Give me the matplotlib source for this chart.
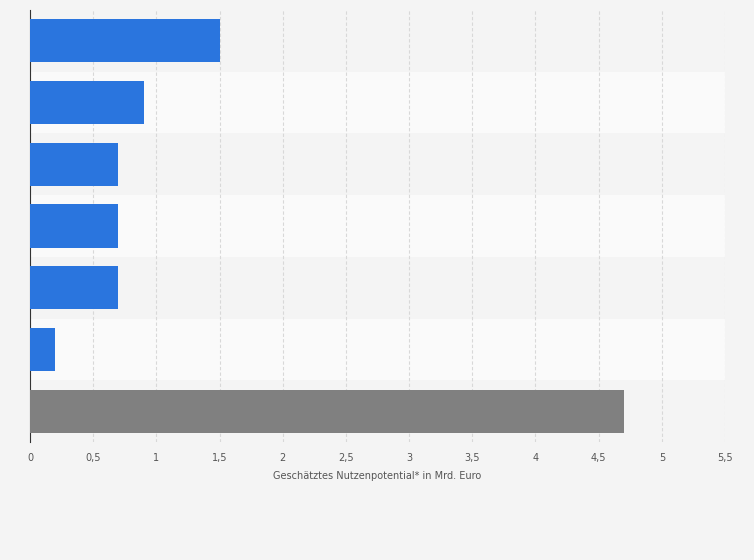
import matplotlib
matplotlib.use("Agg")
import matplotlib.pyplot as plt

values = [1.5, 0.9, 0.7, 0.7, 0.7, 0.2, 4.7]
colors = ["#2a75de"] * 6 + ["#808080"]
ticks = [0, 0.5, 1, 1.5, 2, 2.5, 3, 3.5, 4, 4.5, 5, 5.5]
tick_labels = ["0", "0,5", "1", "1,5", "2", "2,5", "3", "3,5", "4", "4,5", "5", "5,5"]

fig = plt.figure(figsize=(7.54, 5.60), dpi=100, facecolor="#f4f4f4")
ax = fig.add_axes([30/754, 1-442/560, 695/754, 432/560])
ax.set_facecolor("#f4f4f4")
n = len(values)
for i in range(n):
    ax.axhspan(i-0.5, i+0.5, color="#f4f4f4" if i % 2 == 0 else "#fafafa", zorder=0, lw=0)
ax.barh(range(n), values, height=0.7, color=colors, zorder=3)
ax.set_ylim(n-0.5, -0.5)
ax.set_xlim(0, 5.5)
ax.set_xticks(ticks)
ax.set_xticklabels(tick_labels, fontsize=7, color="#555555")
ax.set_yticks([])
ax.grid(axis="x", color="#d8d8d8", linestyle=(0, (3, 2)), lw=0.8, zorder=1)
for s in ["top", "right", "bottom"]:
    ax.spines[s].set_visible(False)
ax.spines["left"].set_color("#333333")
ax.tick_params(axis="x", length=0, pad=8)
ax.set_xlabel("Geschätztes Nutzenpotential* in Mrd. Euro", fontsize=7, color="#555555", labelpad=6)
fig.savefig("out.png", dpi=100, facecolor=fig.get_facecolor())
